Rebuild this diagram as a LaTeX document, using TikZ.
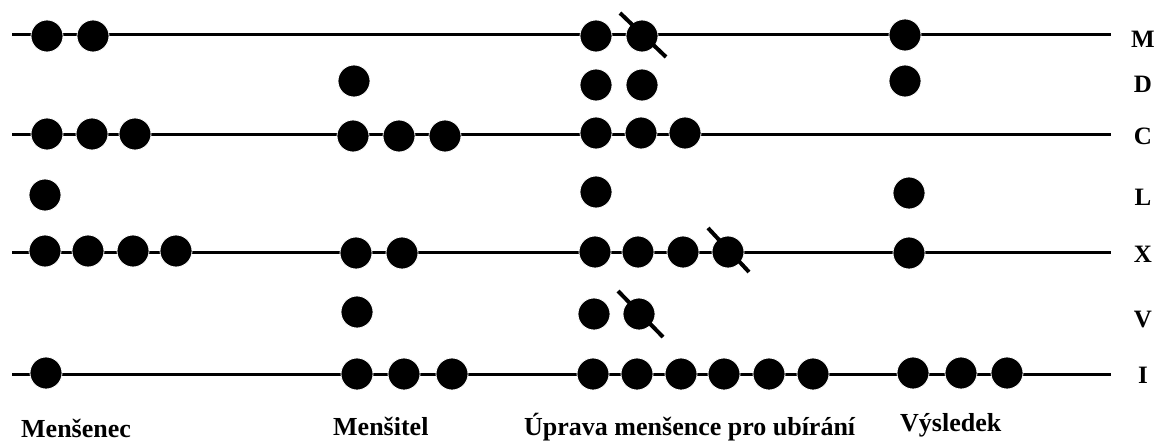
\documentclass[tikz,border=0pt]{standalone}
\usepackage{fontspec}
\setmainfont{Liberation Serif}
\begin{document}
\begin{tikzpicture}[x=1pt,y=-1pt,
  rod/.style={line width=3pt,black},
  bead/.style={circle,fill=black,draw=white,line width=0.8pt,minimum size=32pt,inner sep=0pt},
  slash/.style={line width=4pt,black},
  rowlab/.style={font=\fontsize{25}{28}\selectfont\bfseries,anchor=center,inner sep=0pt},
  collab/.style={font=\fontsize{26}{30}\selectfont\bfseries,anchor=base west,inner sep=0pt}]
\useasboundingbox (0,0) rectangle (1158,441);
% rods
\coordinate (mL) at (12,35);  \coordinate (mR) at (1111,35);
\coordinate (cL) at (12,134); \coordinate (cR) at (1111,134);
\coordinate (xL) at (12,252); \coordinate (xR) at (1111,252);
\coordinate (iL) at (12,374); \coordinate (iR) at (1111,374);
\draw[rod] (mL) -- (mR);
\draw[rod] (cL) -- (cR);
\draw[rod] (xL) -- (xR);
\draw[rod] (iL) -- (iR);
% Mensenec
\node[bead] (a1) at (47,36) {};
\node[bead] (a2) at (93,36) {};
\node[bead] (a3) at (47,134) {};
\node[bead] (a4) at (92,134) {};
\node[bead] (a5) at (135,134) {};
\node[bead] (a6) at (45,195) {};
\node[bead] (a7) at (45,251) {};
\node[bead] (a8) at (88,251) {};
\node[bead] (a9) at (133,251) {};
\node[bead] (a10) at (176,251) {};
\node[bead] (a11) at (46,373) {};
% Mensitel
\node[bead] (b1) at (354,81) {};
\node[bead] (b2) at (353,136) {};
\node[bead] (b3) at (399,136) {};
\node[bead] (b4) at (445,136) {};
\node[bead] (b5) at (356,253) {};
\node[bead] (b6) at (402,253) {};
\node[bead] (b7) at (357,312) {};
\node[bead] (b8) at (357,374) {};
\node[bead] (b9) at (404,374) {};
\node[bead] (b10) at (452,374) {};
% Uprava
\node[bead] (u1) at (596,36) {};
\node[bead] (u2) at (642,36) {};
\node[bead] (u3) at (596,85) {};
\node[bead] (u4) at (642,85) {};
\node[bead] (u5) at (596,133) {};
\node[bead] (u6) at (641,133) {};
\node[bead] (u7) at (685,133) {};
\node[bead] (u8) at (596,192) {};
\node[bead] (u9) at (595,252) {};
\node[bead] (u10) at (638,252) {};
\node[bead] (u11) at (683,252) {};
\node[bead] (u12) at (728,252) {};
\node[bead] (u13) at (594,314) {};
\node[bead] (u14) at (639,314) {};
\node[bead] (u15) at (593,374) {};
\node[bead] (u16) at (637,374) {};
\node[bead] (u17) at (681,374) {};
\node[bead] (u18) at (724,374) {};
\node[bead] (u19) at (769,374) {};
\node[bead] (u20) at (813,374) {};
% Vysledek
\node[bead] (v1) at (905,35) {};
\node[bead] (v2) at (905,81) {};
\node[bead] (v3) at (909,193) {};
\node[bead] (v4) at (909,253) {};
\node[bead] (v5) at (913,373) {};
\node[bead] (v6) at (961,373) {};
\node[bead] (v7) at (1007,373) {};
% slashes
\draw[slash] ([shift={(-22,-23)}]u2.center) -- ([shift={(24,21)}]u2.center);
\draw[slash] ([shift={(-20,-24)}]u12.center) -- ([shift={(21,20)}]u12.center);
\draw[slash] ([shift={(-21,-23)}]u14.center) -- ([shift={(24,23)}]u14.center);
% row labels
\node[rowlab] (lM) at (1143,39) {M};
\node[rowlab] (lD) at (1143,84) {D};
\node[rowlab] (lC) at (1143,136) {C};
\node[rowlab] (lL) at (1143,197) {L};
\node[rowlab] (lX) at (1143,254) {X};
\node[rowlab] (lV) at (1143,320) {V};
\node[rowlab] (lI) at (1143,375) {I};
% column labels
\node[collab] (t1) at (21,437) {Menšenec};
\node[collab] (t2) at (333,435) {Menšitel};
\node[collab] (t3) at (524,435) {Úprava menšence pro ubírání};
\node[collab] (t4) at (900,431) {Výsledek};
\end{tikzpicture}
\end{document}
